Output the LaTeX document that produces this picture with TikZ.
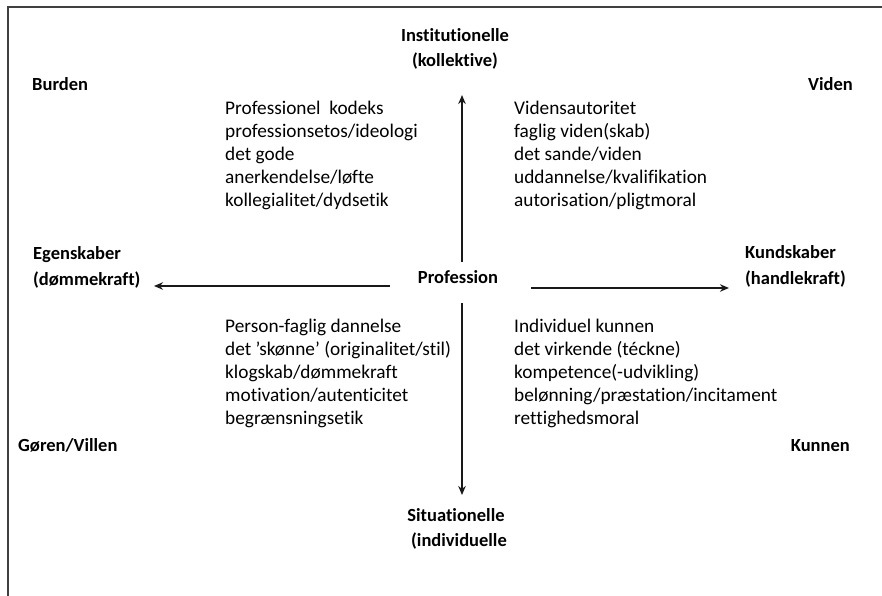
\documentclass[tikz,border=0pt]{standalone}
\usepackage{fontspec}
\setmainfont{Carlito}[Ligatures=NoCommon]
\usetikzlibrary{arrows.meta}
\tikzset{
  lbl/.style={font=\fontsize{18.5}{25}\selectfont\bfseries, inner sep=0pt, align=center},
  lbll/.style={font=\fontsize{18.5}{26}\selectfont\bfseries, inner sep=0pt, align=left},
  lst/.style={font=\fontsize{19.3}{23}\selectfont, inner sep=0pt, align=left, anchor=base west},
  axis/.style={line width=1.8pt, draw=black!90, -{Stealth[length=9pt,width=7.5pt]}},
  frame/.style={line width=1.8pt, draw=black!75}
}
\begin{document}
\begin{tikzpicture}[x=1pt,y=-1pt]
\useasboundingbox (0,0) rectangle (882,596);
\draw[frame] (8,600) -- (8,7) -- (890,7);
% axis labels (base anchor = baseline of last line)
\node[lbl, anchor=base] (inst) at (455,67) {Institutionelle\\(kollektive)};
\node[lbl, anchor=base] (sit) at (456,546) {Situationelle\\\hspace*{6pt}(individuelle};
\node[lbl, anchor=base] (prof) at (458,283) {Profession};
\node[lbll, anchor=base west] (egen) at (33,285) {Egenskaber\\(dømmekraft)};
\node[lbll, anchor=base west] (kund) at (745,284) {Kundskaber\\(handlekraft)};
% corner labels
\node[lbl, anchor=base west] (burden) at (32,91) {Burden};
\node[lbl, anchor=base east] (viden) at (853,91) {Viden};
\node[lbl, anchor=base west] (goren) at (18,451) {Gøren/Villen};
\node[lbl, anchor=base east] (kunnen) at (850,451) {Kunnen};
% quadrant lists
\node[lst] (tl) at (225,206) {Professionel\ \ kodeks\\professionsetos/ideologi\\det gode\\anerkendelse/løfte\\kollegialitet/dydsetik};
\node[lst] (tr) at (514,206) {Vidensautoritet\\faglig viden(skab)\\det sande/viden\\uddannelse/kvalifikation\\autorisation/pligtmoral};
\node[lst] (bl) at (225,424) {Person-faglig dannelse\\det ’skønne’ (originalitet/stil)\\klogskab/dømmekraft\\motivation/autenticitet\\begrænsningsetik};
\node[lst] (br) at (514,424) {Individuel kunnen\\det virkende (téckne)\\kompetence(-udvikling)\\belønning/præstation/incitament\\rettighedsmoral};
% arrow end points
\coordinate (upS) at (462,262);
\coordinate (upE) at (462,95);
\coordinate (dnS) at (462,303);
\coordinate (dnE) at (462,495);
\coordinate (lfS) at (390,286);
\coordinate (lfE) at (154,286);
\coordinate (rtS) at (531,288);
\coordinate (rtE) at (729,288);
\draw[axis] (upS) -- (upE);
\draw[axis] (dnS) -- (dnE);
\draw[axis] (lfS) -- (lfE);
\draw[axis] (rtS) -- (rtE);
\end{tikzpicture}
\end{document}
